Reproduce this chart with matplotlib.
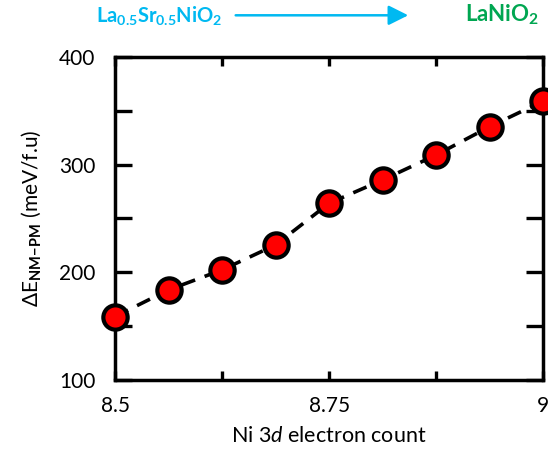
import matplotlib
matplotlib.use("Agg")
import matplotlib.pyplot as plt

plt.rcParams["font.family"] = ["Lato", "DejaVu Sans"]
plt.rcParams["mathtext.fontset"] = "custom"
plt.rcParams["mathtext.rm"] = "Lato"
plt.rcParams["mathtext.bf"] = "Lato:bold"
plt.rcParams["mathtext.it"] = "Lato:italic"

# ── data ─────────────────────────────────────────────────────────────────────
electron_count = [8.5, 8.5625, 8.625, 8.6875, 8.75, 8.8125, 8.875, 8.9375, 9.0]
delta_e = [158.8, 183.6, 202.2, 225.4, 264.1, 285.8, 309.0, 335.3, 359.1]

x_ticks = [8.5, 8.75, 9.0]
x_tick_labels = ["8.5", "8.75", "9"]
y_ticks = [100, 200, 300, 400]

cyan = "#00b9f1"
green = "#00a651"

# ── plot ─────────────────────────────────────────────────────────────────────
fig = plt.figure(figsize=(5.48, 4.50), dpi=100)
ax = fig.add_axes([0.21, 0.156, 0.781, 0.717])

ax.plot(electron_count, delta_e, color="black", lw=2.6, dashes=(4.0, 2.8),
        marker="o", ms=17.5, mfc="red", mec="black", mew=3.0, clip_on=False,
        zorder=3)

ax.set_xlim(8.5, 9.0)
ax.set_ylim(100, 400)
ax.set_xticks(x_ticks)
ax.set_xticklabels(x_tick_labels)
ax.set_xticks([8.625, 8.875], minor=True)
ax.set_yticks(y_ticks)
ax.set_yticks([150, 250, 350], minor=True)

ax.tick_params(which="both", direction="in", top=True, right=True,
               width=2.4, labelsize=15)
ax.tick_params(axis="x", which="both", length=6.5, pad=12)
ax.tick_params(axis="y", which="both", length=12.5, pad=14)
for s in ax.spines.values():
    s.set_linewidth(2.5)

ax.set_xlabel(r"Ni 3$\it{d}$ electron count", fontsize=15.5, labelpad=7)
ax.set_ylabel(r"$\Delta$E$_{\mathbf{NM\!-\!PM}}$ (meV/f.u)", fontsize=15,
              labelpad=12)

# top annotation
fig.text(0.175, 0.966, r"La$_{\mathbf{0.5}}$Sr$_{\mathbf{0.5}}$NiO$_{\mathbf{2}}$",
         color=cyan, fontsize=14.5, fontweight="bold", va="center", ha="left")
fig.text(0.848, 0.966, r"LaNiO$_{\mathbf{2}}$", color=green, fontsize=16,
         fontweight="bold", va="center", ha="left")
fig.add_artist(matplotlib.patches.FancyArrowPatch(
    (0.425, 0.966), (0.75, 0.966), transform=fig.transFigure,
    arrowstyle="-|>,head_length=8,head_width=4", color=cyan, lw=1.8,
    mutation_scale=1.5))

fig.savefig("out.png", dpi=100)
